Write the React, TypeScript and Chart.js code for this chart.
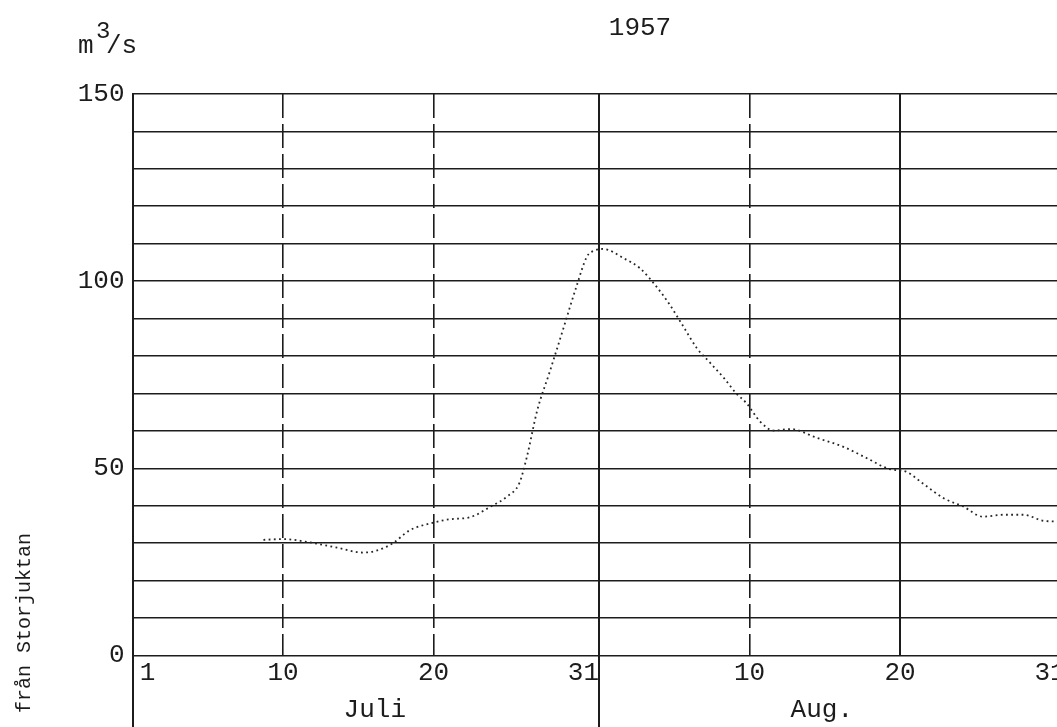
import React, { useEffect, useRef } from 'react';
import { Chart, registerables } from 'chart.js';

Chart.register(...registerables);

// ---- texts ----
const chartTitle = '1957';
const unitBase = 'm';
const unitPower = '3';
const unitTail = '/s';
const sideLabel = 'från Storjuktan';

// ---- data: day counted from 1 July (1 = 1 July, 32 = 1 Aug) ----
const days = [
  8.7, 10, 11.8, 13.6, 15.3, 16.2, 17.3, 18.4, 19.8, 21.1, 22.4, 23.8, 24.9, 25.7,
  26.2, 26.9, 27.7, 28.6, 29.5, 30.2, 30.7, 31.3, 32.6, 33.7, 34.8, 35.7, 36.6, 37.5,
  38.4, 39.3, 40.1, 40.8, 41.7, 42.6, 43.7, 45.5, 47.2, 48.8, 50.3, 51.4, 52.5, 53.9,
  55.2, 56.5, 57.9, 59.2, 60.5, 61.4,
];
const flows = [
  30.9, 31.1, 30.2, 28.8, 27.5, 28.0, 30.0, 33.4, 35.3, 36.4, 36.9, 39.8, 42.5, 46.0,
  53.0, 65.6, 75.5, 87.0, 98.6, 106.6, 108.2, 108.6, 106.2, 103.5, 98.6, 93.7, 87.9, 82.1,
  78.1, 74.1, 70.1, 67.4, 62.5, 60.1, 60.5, 58.1, 55.8, 52.7, 49.8, 49.1, 46.0, 42.0,
  39.8, 37.1, 37.6, 37.6, 36.0, 35.8,
];

// ---- axes ----
const dayTicks = [0, 1, 10, 20, 31, 41, 51, 62];
// month-end labels are typed with trailing spaces so they sit left of the month line
const dayTickLabels = ['', '1', '10', '20', '31  ', '10', '20', '31  '];
const solidDays = [31, 51];
const longTickDays = [0, 31];
const dashedDays = [10, 20, 41];
const monthCentres = [16.1, 45.8];
const monthLabels = ['Juli', 'Aug.'];
const dayMin = 0;
const dayMax = 63.82;
const flowMin = 0;
const flowMax = 150;
const flowStep = 10;
const flowLabelStep = 50;

export default function App() {
  const ref = useRef<HTMLCanvasElement>(null);

  useEffect(() => {
    const canvas = ref.current;
    if (!canvas) return;
    const ink = '#1c1c1c';
    const fam = "'Liberation Mono', 'DejaVu Sans Mono', monospace";
    const font = { family: fam, size: 26 };
    const none = 'rgba(0,0,0,0)';

    const textPlugin = {
      id: 'sheetText',
      afterDraw(chart: any) {
        const ctx = chart.ctx as CanvasRenderingContext2D;
        ctx.save();
        ctx.fillStyle = ink;
        ctx.font = `26px ${fam}`;
        ctx.textAlign = 'center';
        ctx.textBaseline = 'middle';
        ctx.fillText(chartTitle, 640, 28);
        ctx.textAlign = 'left';
        ctx.textBaseline = 'alphabetic';
        ctx.fillText(unitBase, 78, 53);
        ctx.fillText(unitTail, 106, 53);
        ctx.font = `24px ${fam}`;
        ctx.fillText(unitPower, 96, 38);
        ctx.translate(25, 623);
        ctx.rotate(-Math.PI / 2);
        ctx.font = `20px ${fam}`;
        ctx.textAlign = 'center';
        ctx.textBaseline = 'middle';
        ctx.fillText(sideLabel, 0, 0);
        ctx.restore();
      },
    };

    const chart = new Chart(canvas, {
      type: 'line',
      data: {
        datasets: [
          {
            data: days.map((d, i) => ({ x: d, y: flows[i] })),
            borderColor: '#262626',
            borderWidth: 1.8,
            borderDash: [1.8, 3.4],
            pointRadius: 0,
            fill: false,
            cubicInterpolationMode: 'monotone',
            xAxisID: 'x',
            yAxisID: 'y',
          },
        ],
      },
      options: {
        responsive: false,
        animation: false,
        layout: { padding: { top: 94, right: 7, bottom: 0, left: 0 } },
        plugins: {
          legend: { display: false },
          tooltip: { enabled: false },
          title: { display: false },
        },
        scales: {
          x: {
            type: 'linear',
            position: 'bottom',
            weight: 0,
            min: dayMin,
            max: dayMax,
            afterBuildTicks: (s: any) => {
              s.ticks = dayTicks.map((v) => ({ value: v }));
            },
            afterFit: (s: any) => {
              s.height = 31.5;
            },
            ticks: {
              autoSkip: false,
              maxRotation: 0,
              padding: -70,
              color: ink,
              font,
              callback: (_v: any, i: number) => dayTickLabels[i],
            },
            grid: {
              display: true,
              drawOnChartArea: true,
              drawTicks: true,
              tickLength: 72,
              lineWidth: 2,
              tickWidth: 2,
              color: (c: any) => (c.tick && solidDays.includes(c.tick.value) ? ink : none),
              tickColor: (c: any) => (c.tick && longTickDays.includes(c.tick.value) ? ink : none),
            },
            border: { display: false },
          },
          xm: {
            type: 'linear',
            position: 'bottom',
            weight: 1,
            min: dayMin,
            max: dayMax,
            afterBuildTicks: (s: any) => {
              s.ticks = monthCentres.map((v) => ({ value: v }));
            },
            afterFit: (s: any) => {
              s.height = 40;
            },
            ticks: {
              autoSkip: false,
              maxRotation: 0,
              padding: 7.4,
              color: ink,
              font,
              callback: (_v: any, i: number) => monthLabels[i],
            },
            grid: { display: false, drawTicks: false, drawOnChartArea: false },
            border: { display: false },
          },
          xd: {
            type: 'linear',
            position: 'top',
            min: dayMin,
            max: dayMax,
            afterBuildTicks: (s: any) => {
              s.ticks = dashedDays.map((v) => ({ value: v }));
            },
            afterFit: (s: any) => {
              s.height = 0;
            },
            ticks: { display: false },
            grid: {
              display: true,
              drawOnChartArea: true,
              drawTicks: false,
              color: ink,
              lineWidth: 1.6,
            },
            border: { display: false, dash: [24, 6] },
          },
          y: {
            type: 'linear',
            position: 'left',
            min: flowMin,
            max: flowMax,
            afterFit: (s: any) => {
              s.width = 132.5;
            },
            ticks: {
              stepSize: flowStep,
              autoSkip: false,
              padding: 8,
              color: ink,
              font,
              callback: (v: any) => (Number(v) % flowLabelStep === 0 ? String(v) : ''),
            },
            grid: { color: ink, lineWidth: 1.6, drawTicks: false },
            border: { display: true, color: ink, width: 2 },
          },
        },
      },
      plugins: [textPlugin],
    } as any);

    return () => chart.destroy();
  }, []);

  return (
    <div
      style={{
        position: 'fixed',
        left: 0,
        top: 0,
        width: 1057,
        height: 727,
        overflow: 'hidden',
        background: '#ffffff',
      }}
    >
      <canvas ref={ref} width={1100} height={727} style={{ display: 'block' }} />
    </div>
  );
}
